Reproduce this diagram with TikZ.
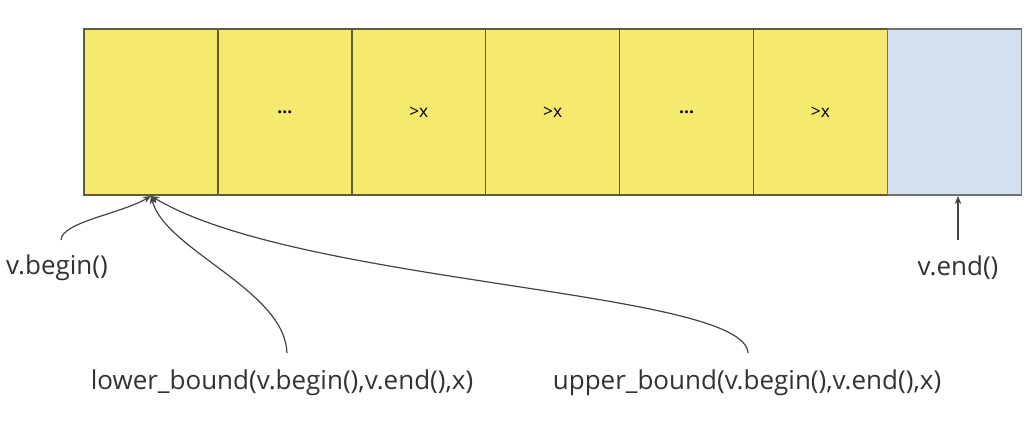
\documentclass[tikz,border=0pt]{standalone}
\usepackage{fontspec}
\setmainfont{Open Sans}
\usetikzlibrary{arrows.meta, positioning}
\definecolor{cellfill}{HTML}{F5E96E}
\definecolor{endfill}{HTML}{D3E0EF}
\definecolor{cellline}{HTML}{5F5C3C}
\definecolor{endline}{HTML}{6E7278}
\definecolor{wire}{HTML}{444444}

\begin{document}
\begin{tikzpicture}[
    x=0.75pt, y=-0.75pt, >={Stealth[length=6pt, width=5pt]},
    cell/.style={draw=cellline, fill=cellfill, line width=1.1pt,
        minimum width=133.9*0.75pt, minimum height=166*0.75pt,
        inner sep=0pt, outer sep=0pt, font=\fontsize{13}{14}\selectfont},
    lab/.style={font=\fontsize{19.5}{21}\selectfont, text=black!80, inner sep=1pt},
    link/.style={->, wire, line width=0.9pt},
]
\useasboundingbox[fill=white] (0,0) rectangle (1034,426);

% the array cells, left to right
\node[cell, anchor=north west] (c1) at (84,29) {};
\node[cell, right=0pt of c1] (c2) {\textbf{...}};
\node[cell, right=0pt of c2] (c3) {>x};
\node[cell, right=0pt of c3] (c4) {>x};
\node[cell, right=0pt of c4] (c5) {\textbf{...}};
\node[cell, right=0pt of c5] (c6) {>x};
\node[cell, right=0pt of c6, draw=endline, fill=endfill] (c7) {};

% iterator labels
\node[lab] (beg) at (57,268) {v.begin()};
\node[lab] (fin) at (958,268) {v.end()};
\node[lab] (lb) at (282,383) {lower\_bound(v.begin(),v.end(),x)};
\node[lab] (ub) at (747,383) {upper\_bound(v.begin(),v.end(),x)};

% where the arrows meet the cells
\coordinate (hit) at (151,196);
\coordinate (hitend) at (958,196);
\coordinate (begtop) at (61,240);
\coordinate (fintop) at (958,240);
\coordinate (lbtop) at (287,353);
\coordinate (ubtop) at (748,353);

% connectors
\draw[link] (begtop) .. controls (62,222) and (120,214) .. (hit);
\draw[link] (fintop) -- (hitend);
\draw[link] (lbtop) .. controls (285,290) and (165,250) .. (hit);
\draw[link] (ubtop) .. controls (745,290) and (300,285) .. (hit);
\end{tikzpicture}
\end{document}
